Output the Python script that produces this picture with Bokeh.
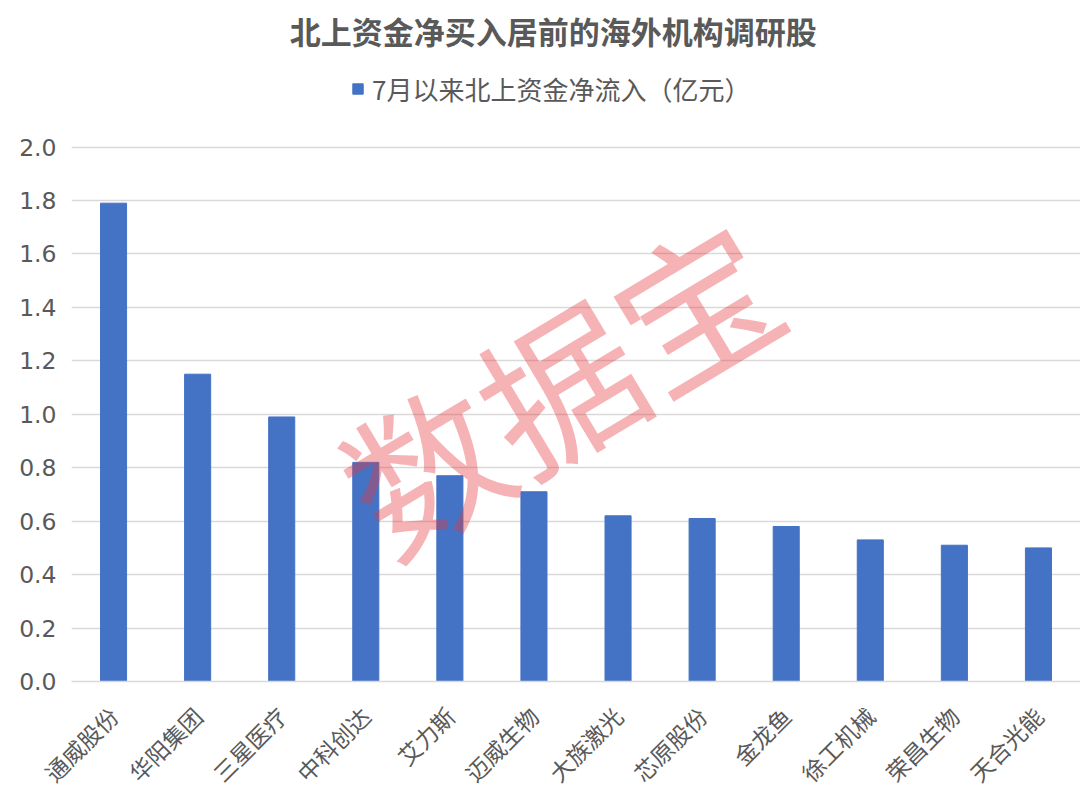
import math
from bokeh.plotting import figure
from bokeh.models import (FactorRange, Range1d, Label, Legend, LegendItem,
                          FixedTicker, NumeralTickFormatter)
from bokeh.embed import file_html
from bokeh.resources import INLINE

# ---- data ----
title_text = "北上资金净买入居前的海外机构调研股"
series_name = "7月以来北上资金净流入（亿元）"
categories = ["通威股份", "华阳集团", "三星医疗", "中科创达", "艾力斯", "迈威生物",
              "大族激光", "芯原股份", "金龙鱼", "徐工机械", "荣昌生物", "天合光能"]
values = [1.79, 1.15, 0.99, 0.82, 0.77, 0.71, 0.62, 0.61, 0.58, 0.53, 0.51, 0.50]
y_ticks = [0.0, 0.2, 0.4, 0.6, 0.8, 1.0, 1.2, 1.4, 1.6, 1.8, 2.0]
watermark = "数据宝"

CJK = "Noto Sans CJK SC"
GREY = "#595959"
BLUE = "#4472c4"

# y range extends above the top tick so that title and legend sit inside the frame
p = figure(width=1080, height=803,
           x_range=FactorRange(*categories), y_range=Range1d(0, 2.5485),
           output_backend="svg", toolbar_location=None,
           min_border_left=71, min_border_right=0,
           min_border_top=0, min_border_bottom=120)

r = p.vbar(x=categories, top=values, width=0.31, fill_color=BLUE, line_color=BLUE)

# axes
p.yaxis.ticker = FixedTicker(ticks=y_ticks)
p.yaxis.formatter = NumeralTickFormatter(format="0.0")
p.yaxis.axis_line_color = None
p.yaxis.major_tick_line_color = None
p.yaxis.minor_tick_line_color = None
p.yaxis.major_label_text_font = "DejaVu Sans"
p.yaxis.major_label_text_font_size = "23.5px"
p.yaxis.major_label_text_color = GREY
p.yaxis.major_label_standoff = 9

p.xaxis.axis_line_color = "#d9d9d9"
p.xaxis.axis_line_width = 1.5
p.xaxis.major_tick_line_color = None
p.xaxis.minor_tick_line_color = None
p.xaxis.major_label_orientation = math.pi / 4
p.xaxis.major_label_text_font = CJK
p.xaxis.major_label_text_font_size = "23px"
p.xaxis.major_label_text_color = GREY
p.xaxis.major_label_standoff = 24

p.xgrid.grid_line_color = None
p.ygrid.grid_line_color = "#d9d9d9"
p.ygrid.grid_line_width = 1.5
p.outline_line_color = None

# legend
legend = Legend(items=[LegendItem(label=series_name, renderers=[r])],
                location=(280, 574), orientation="horizontal",
                padding=0, margin=0, spacing=0,
                glyph_width=13, glyph_height=13, label_standoff=8,
                label_text_font=CJK, label_text_font_size="26px",
                label_text_color=GREY,
                border_line_alpha=0, background_fill_alpha=0)
p.add_layout(legend)

# title
p.add_layout(Label(x=5.73, y=2.437, text=title_text,
                   text_align="center", text_baseline="middle",
                   text_font=CJK, text_font_size="31px", text_font_style="bold",
                   text_color=GREY))

# watermark
p.add_layout(Label(x=5.78, y=1.12, text=watermark, angle=31, angle_units="deg",
                   text_align="center", text_baseline="middle",
                   text_font=CJK, text_font_size="158px",
                   text_color="#e8383d", text_alpha=0.38))

open("out.html", "w").write(file_html(p, INLINE))
